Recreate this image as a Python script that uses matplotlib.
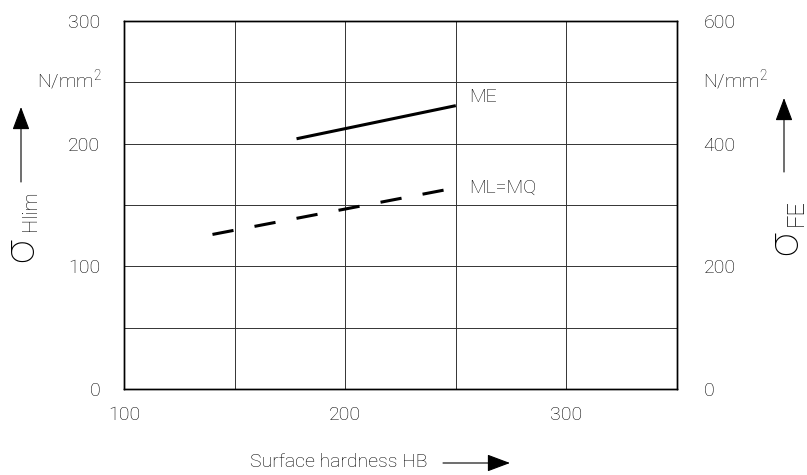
import matplotlib
matplotlib.use('Agg')
import matplotlib.pyplot as plt

# Endurance limits vs surface hardness, two material quality grades
me_hb = [178, 250]
me_sigma = [204, 231]
mlmq_hb = [140, 250]
mlmq_sigma = [126, 164]

hb_ticks = [100, 200, 300]
hlim_ticks = [0, 100, 200, 300]
fe_ticks = [0, 200, 400, 600]

matplotlib.rc('font', family=['Roboto', 'DejaVu Sans'], weight='light', size=14)
matplotlib.rc('mathtext', fontset='custom', rm='Roboto:light')
matplotlib.rc('text', color='black')

W, H = 807, 475
fig = plt.figure(figsize=(W / 100, H / 100), dpi=100)
ax = fig.add_axes([124 / W, 1 - 389 / H, 553 / W, 368 / H])

ax.set_xlim(100, 350)
ax.set_ylim(0, 300)
ax.set_xticks(hb_ticks)
ax.set_xticks([150, 250, 350], minor=True)
ax.set_yticks(hlim_ticks)
ax.set_yticks([50, 150, 250], minor=True)
ax.grid(True, which='both', color='0.2', lw=0.7)
ax.tick_params(which='both', length=0, labelcolor='black')
ax.tick_params(axis='y', pad=17)
ax.tick_params(axis='x', pad=12)
for s in ax.spines.values():
    s.set_linewidth(1.0)

ax.plot(me_hb, me_sigma, color='black', lw=2.2, solid_capstyle='butt')
ax.plot(mlmq_hb, mlmq_sigma, color='black', lw=2.2, dashes=(7, 7),
        dash_capstyle='butt')
ax.text(256, 238, 'ME', va='center', ha='left')
ax.text(256, 164, 'ML=MQ', va='center', ha='left')

ax2 = ax.twinx()
ax2.set_ylim(0, 600)
ax2.set_yticks(fe_ticks)
ax2.tick_params(length=0, pad=19, labelcolor='black')
for s in ax2.spines.values():
    s.set_linewidth(1.0)

# units
fig.text(102 / W, 1 - 80 / H, r'N/mm$^2$', ha='right', va='center')
fig.text(703 / W, 1 - 80 / H, r'N/mm$^2$', ha='left', va='center')

# axis titles with arrows
arrow = dict(arrowstyle='-|>,head_length=0.8,head_width=0.3', color='black',
             lw=0.8, mutation_scale=18, shrinkA=0, shrinkB=0)
fig.text(22 / W, 1 - 250 / H, 'σ', rotation=90, ha='center', va='center',
         fontsize=31)
fig.text(31 / W, 1 - 211 / H, 'Hlim', rotation=90, ha='center', va='center',
         fontsize=14.5)
ax.annotate('', xy=(21 / W, 1 - 107 / H), xytext=(21 / W, 1 - 182 / H),
            xycoords='figure fraction', arrowprops=arrow)
fig.text(786 / W, 1 - 243 / H, 'σ', rotation=90, ha='center', va='center',
         fontsize=31)
fig.text(796 / W, 1 - 213 / H, 'FE', rotation=90, ha='center', va='center',
         fontsize=17)
ax.annotate('', xy=(784 / W, 1 - 98 / H), xytext=(784 / W, 1 - 172 / H),
            xycoords='figure fraction', arrowprops=arrow)
fig.text(339 / W, 1 - 462 / H, 'Surface hardness HB', ha='center', va='center')
ax.annotate('', xy=(510 / W, 1 - 463 / H), xytext=(443 / W, 1 - 463 / H),
            xycoords='figure fraction', arrowprops=arrow)

fig.savefig('out.png', dpi=100)
